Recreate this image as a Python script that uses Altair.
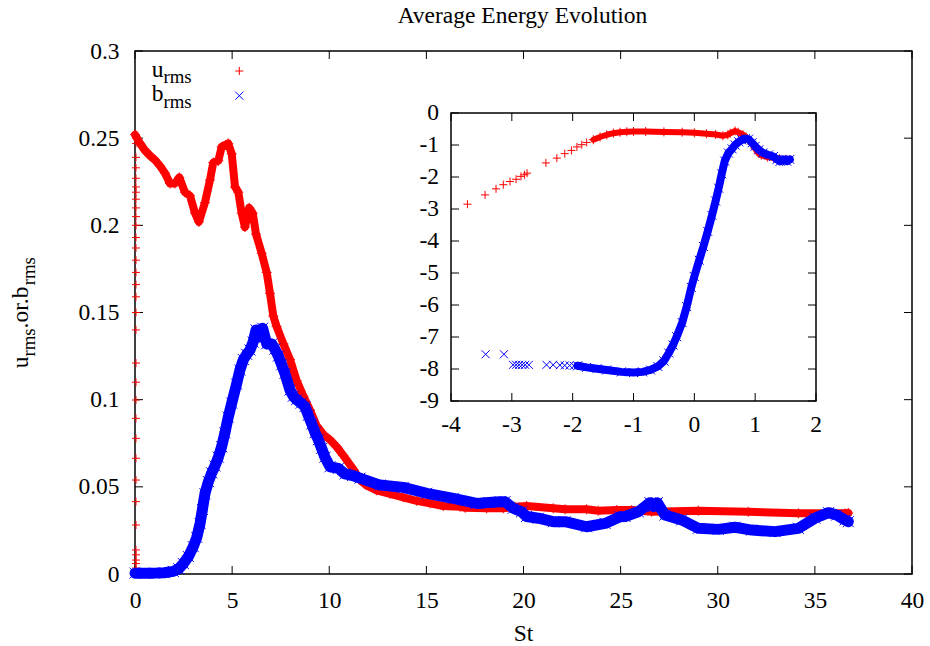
import altair as alt
import pandas as pd

FONT = "'Liberation Serif', 'Times New Roman', Times, serif"
FS = 23.5
FS_SUB = 18.8
RED = "#ff0000"
BLUE = "#0000ff"
PLUS = "M-1,0L1,0M0,-1L0,1"
CROSS = "M-1,-1L1,1M-1,1L1,-1"

W, H = 777, 523
IX0, IX1, IY0, IY1 = 316, 681, 62, 350
TICK = 8

# ---------------- main panel data ----------------
t_u = [0.0, 0.26, 0.51, 0.77, 1.03, 1.29, 1.54, 1.80, 2.06, 2.28, 2.57, 2.83, 3.09, 3.29, 3.60,
       3.86, 4.03, 4.29, 4.46, 4.80, 4.98, 5.15, 5.32, 5.49, 5.66, 5.88, 6.06, 6.23, 6.52, 6.78,
       6.95, 7.12, 7.29, 7.64, 7.98, 8.32, 8.67, 9.01, 9.35, 9.70, 10.04, 10.38, 10.72, 11.24,
       11.58, 11.90, 12.44, 13.13, 13.81, 14.50, 15.19, 15.87, 16.73, 17.00, 18.10, 18.96, 19.56,
       20.16, 21.53, 22.14, 23.25, 23.85, 24.80, 25.57, 26.60, 29.00, 31.57, 34.15, 36.55, 36.72]
u_rms = [0.252, 0.247, 0.243, 0.240, 0.2375, 0.234, 0.230, 0.224, 0.224, 0.2275, 0.219, 0.217,
         0.207, 0.202, 0.213, 0.226, 0.236, 0.237, 0.245, 0.247, 0.241, 0.222, 0.219, 0.207, 0.199,
         0.210, 0.207, 0.195, 0.184, 0.173, 0.161, 0.148, 0.142, 0.132, 0.123, 0.111, 0.102, 0.094,
         0.085, 0.080, 0.077, 0.073, 0.068, 0.060, 0.054, 0.051, 0.048, 0.046, 0.044, 0.042, 0.0405,
         0.039, 0.0386, 0.0380, 0.0377, 0.0377, 0.0386, 0.0390, 0.0377, 0.0371, 0.0371, 0.0363,
         0.0367, 0.0367, 0.0357, 0.0363, 0.0357, 0.0348, 0.0348, 0.0350]

# u_rms values of the first outputs, all plotted at St ~ 0 (the column of red crosses on the axis)
t_u_start = 0.05
u_rms_start = [0.0034, 0.006, 0.008, 0.011, 0.0138, 0.0281, 0.0415, 0.0539, 0.0664, 0.0778,
               0.0893, 0.0998, 0.110, 0.121, 0.140, 0.150, 0.159, 0.166, 0.173, 0.180, 0.187,
               0.193, 0.200, 0.205, 0.210, 0.215, 0.219, 0.222, 0.227, 0.233, 0.239, 0.247, 0.250]

t_b = [0.0, 0.5, 1.0, 1.5, 1.97, 2.25, 2.49, 2.75, 3.0, 3.18, 3.35, 3.47, 3.60, 3.78, 3.95, 4.12,
       4.29, 4.46, 4.63, 4.80, 4.98, 5.23, 5.40, 5.58, 5.75, 5.92, 6.08, 6.23, 6.44, 6.57, 6.78,
       7.04, 7.20, 7.38, 7.55, 7.72, 7.98, 8.15, 8.32, 8.55, 8.75, 8.92, 9.10, 9.27, 9.44, 9.61,
       9.78, 10.04, 10.47, 10.81, 11.20, 11.58, 12.61, 13.81, 15.02, 16.39, 17.59, 18.20, 18.79,
       19.05, 19.47, 19.90, 20.16, 20.76, 21.53, 22.14, 23.25, 24.20, 24.97, 25.23, 25.91, 26.51,
       26.68, 26.89, 27.28, 28.14, 29.00, 30.03, 30.89, 31.75, 32.95, 34.15, 35.00, 35.70, 36.12,
       36.55, 36.72]
b_rms = [0.0005, 0.0005, 0.0005, 0.0007, 0.0015, 0.003, 0.006, 0.010, 0.0157, 0.021, 0.029, 0.037,
         0.046, 0.053, 0.058, 0.062, 0.067, 0.073, 0.081, 0.090, 0.098, 0.109, 0.117, 0.123, 0.126,
         0.1285, 0.133, 0.140, 0.136, 0.141, 0.132, 0.132, 0.129, 0.125, 0.120, 0.115, 0.1055,
         0.102, 0.100, 0.098, 0.096, 0.091, 0.086, 0.081, 0.077, 0.072, 0.067, 0.0615, 0.0606,
         0.0574, 0.0565, 0.055, 0.051, 0.0497, 0.0463, 0.0434, 0.0405, 0.041, 0.0415, 0.0415,
         0.0377, 0.0357, 0.033, 0.032, 0.030, 0.030, 0.0271, 0.029, 0.0329, 0.033, 0.0357, 0.0409,
         0.0386, 0.0409, 0.0338, 0.031, 0.0262, 0.0256, 0.0268, 0.0252, 0.0243, 0.0262, 0.032,
         0.0352, 0.0338, 0.031, 0.030]

# ---------------- inset data: log10(St) vs log10(u_rms), log10(b_rms) ----------------
lt_u_sparse = [-3.73, -3.44, -3.26, -3.14, -3.03, -2.93, -2.85, -2.79, -2.75, -2.44, -2.26,
               -2.13, -2.02, -1.93, -1.85, -1.77]
lu_sparse = [-2.85, -2.56, -2.37, -2.24, -2.14, -2.07, -1.98, -1.93, -1.88, -1.56, -1.41,
             -1.27, -1.17, -1.06, -0.99, -0.92]
lt_u_dense = [-1.66, -1.55, -1.44, -1.33, -1.22, -1.11, -1.0, -0.8, -0.5, -0.2, 0.0, 0.2, 0.35,
              0.47, 0.55, 0.59, 0.67, 0.72, 0.80, 0.85, 0.90, 0.95, 1.0, 1.05, 1.1, 1.2, 1.3, 1.4,
              1.5, 1.565]
lu_dense = [-0.835, -0.75, -0.68, -0.63, -0.60, -0.585, -0.58, -0.58, -0.59, -0.60, -0.62, -0.65,
            -0.67, -0.71, -0.68, -0.63, -0.56, -0.60, -0.68, -0.75, -0.85, -0.98, -1.12, -1.25,
            -1.32, -1.38, -1.41, -1.43, -1.45, -1.46]

lt_b_sparse = [-3.43, -3.13, -2.98, -2.93, -2.88, -2.83, -2.78, -2.72, -2.43, -2.32, -2.21,
               -2.13, -2.05, -1.98]
lb_sparse = [-7.54, -7.54, -7.87, -7.87, -7.87, -7.87, -7.87, -7.87, -7.87, -7.87, -7.88,
             -7.89, -7.89, -7.90]
lt_b_dense = [-1.92, -1.77, -1.6, -1.44, -1.2, -1.0, -0.85, -0.72, -0.6, -0.5, -0.42, -0.35,
              -0.29, -0.2, -0.125, -0.05, 0.0, 0.08, 0.15, 0.22, 0.29, 0.35, 0.40, 0.45, 0.50,
              0.56, 0.62, 0.67, 0.73, 0.78, 0.84, 0.89, 0.95, 1.0, 1.06, 1.13, 1.22, 1.30, 1.36,
              1.41, 1.46, 1.52, 1.57]
lb_dense = [-7.90, -7.95, -7.99, -8.03, -8.09, -8.11, -8.09, -8.03, -7.92, -7.75, -7.5, -7.25,
            -6.99, -6.55, -6.05, -5.45, -5.11, -4.6, -4.17, -3.7, -3.2, -2.75, -2.35, -1.9, -1.5,
            -1.25, -1.12, -1.0, -0.9, -0.84, -0.80, -0.82, -0.93, -1.04, -1.15, -1.25, -1.31,
            -1.36, -1.45, -1.51, -1.45, -1.51, -1.45]

# ---------------- tick values / labels ----------------
x_ticks = [0, 5, 10, 15, 20, 25, 30, 35, 40]
y_ticks = [0, 0.05, 0.1, 0.15, 0.2, 0.25, 0.3]
inset_x_ticks = [-4, -3, -2, -1, 0, 1, 2]
inset_x_labels = ["-4", "-3", "-2", "-1", "0", "1", "2"]
inset_y_ticks = [0, -1, -2, -3, -4, -5, -6, -7, -8, -9]
inset_y_labels = ["0", "-1", "-2", "-3", "-4", "-5", "-6", "-7", "-8", "-9"]

# ---------------- data frames ----------------
df_u = pd.DataFrame({"t": t_u, "v": u_rms})
df_u0 = pd.DataFrame({"t": [t_u_start] * len(u_rms_start), "v": u_rms_start})
df_b = pd.DataFrame({"t": t_b, "v": b_rms})
df_xt = pd.DataFrame({"v": x_ticks})
df_yt = pd.DataFrame({"v": y_ticks})

di_us = pd.DataFrame({"lt": lt_u_sparse, "lv": lu_sparse})
di_ud = pd.DataFrame({"lt": lt_u_dense, "lv": lu_dense})
di_bs = pd.DataFrame({"lt": lt_b_sparse, "lv": lb_sparse})
di_bd = pd.DataFrame({"lt": lt_b_dense, "lv": lb_dense})
di_xt = pd.DataFrame({"v": inset_x_ticks, "lab": inset_x_labels})
di_yt = pd.DataFrame({"v": inset_y_ticks, "lab": inset_y_labels})
di_frame = pd.DataFrame({"x0": [inset_x_ticks[0]], "x1": [inset_x_ticks[-1]],
                         "y0": [inset_y_ticks[-1]], "y1": [inset_y_ticks[0]]})

# ---------------- scales & axes ----------------
xs = alt.Scale(domain=[0, 40], nice=False, zero=False)
ys = alt.Scale(domain=[0, 0.3], nice=False, zero=False)
x_axis = alt.Axis(values=x_ticks, format="~g", ticks=False, domain=False, grid=False, title=None,
                  labelFont=FONT, labelFontSize=FS, labelColor="black", labelPadding=14,
                  labelFlush=False, labelOverlap=False)
y_axis = alt.Axis(values=y_ticks, format="~g", ticks=False, domain=False, grid=False, title=None,
                  labelFont=FONT, labelFontSize=FS, labelColor="black", labelPadding=16,
                  labelFlush=False, labelOverlap=False)


def MX(f):
    return alt.X(f, type="quantitative", scale=xs, axis=x_axis)


def MY(f):
    return alt.Y(f, type="quantitative", scale=ys, axis=y_axis)


ixs = alt.Scale(domain=[-4, 2], range=[IX0, IX1], nice=False, zero=False)
iys = alt.Scale(domain=[-9, 0], range=[IY1, IY0], nice=False, zero=False)


def IX(f):
    return alt.X(f, type="quantitative", scale=ixs, axis=None)


def IY(f):
    return alt.Y(f, type="quantitative", scale=iys, axis=None)


def label(text, x, y, size=FS, align="left", angle=0):
    return alt.Chart(pd.DataFrame({"s": [text]})).mark_text(
        font=FONT, fontSize=size, align=align, baseline="alphabetic", angle=angle, color="black"
    ).encode(x=alt.value(x), y=alt.value(y), text="s:N")


def pts(df, xf, yf, shape, color, size):
    return alt.Chart(df).mark_point(shape=shape, filled=False, color=color, strokeWidth=1,
                                    size=size, opacity=1).encode(x=xf, y=yf)


def band(df, xf, yf, color, width):
    return alt.Chart(df).mark_line(color=color, strokeWidth=width, strokeJoin="round",
                                   strokeCap="round").encode(x=xf, y=yf)


rule = dict(color="black", strokeWidth=1)

# ---------------- main panel ----------------
main_layers = [
    alt.Chart(df_xt).mark_rule(**rule).encode(x=MX("v"), y=alt.value(H), y2=alt.value(H - TICK)),
    alt.Chart(df_xt).mark_rule(**rule).encode(x=MX("v"), y=alt.value(0), y2=alt.value(TICK)),
    alt.Chart(df_yt).mark_rule(**rule).encode(y=MY("v"), x=alt.value(0), x2=alt.value(TICK)),
    alt.Chart(df_yt).mark_rule(**rule).encode(y=MY("v"), x=alt.value(W), x2=alt.value(W - TICK)),
    pts(df_u0, MX("t"), MY("v"), PLUS, RED, 64),
    band(df_u, MX("t"), MY("v"), RED, 8),
    pts(df_u, MX("t"), MY("v"), PLUS, RED, 100),
    band(df_b, MX("t"), MY("v"), BLUE, 11),
    pts(df_b, MX("t"), MY("v"), CROSS, BLUE, 121),
    # legend
    label("u", 16.7, 25.7),
    label("rms", 28.4, 32.3, FS_SUB),
    label("b", 16.7, 49.7),
    label("rms", 28.4, 56.5, FS_SUB),
    alt.Chart(pd.DataFrame({"s": ["u"]})).mark_point(shape=PLUS, filled=False, color=RED, strokeWidth=1,
                                                     size=64, opacity=1).encode(x=alt.value(104.3), y=alt.value(20)),
    alt.Chart(pd.DataFrame({"s": ["b"]})).mark_point(shape=CROSS, filled=False, color=BLUE, strokeWidth=1,
                                                     size=64, opacity=1).encode(x=alt.value(104.3), y=alt.value(44.7)),
    # titles
    label("Average Energy Evolution", 387.5, -27.7, FS, "center"),
    label("St", 388.5, 590, FS, "center"),
    label("u", -106.7, 317.3, FS, "left", 270),
    label("rms", -100, 305.6, FS_SUB, "left", 270),
    label(".or.b", -106.7, 277.4, FS, "left", 270),
    label("rms", -100, 234.3, FS_SUB, "left", 270),
]

# ---------------- inset ----------------
inset_layers = [
    alt.Chart(di_frame).mark_rect(fill="white", fillOpacity=0, stroke="black", strokeWidth=1.5).encode(
        x=IX("x0"), x2="x1", y=IY("y0"), y2="y1"),
    alt.Chart(di_xt).mark_rule(**rule).encode(x=IX("v"), y=alt.value(IY1), y2=alt.value(IY1 - TICK)),
    alt.Chart(di_xt).mark_rule(**rule).encode(x=IX("v"), y=alt.value(IY0), y2=alt.value(IY0 + TICK)),
    alt.Chart(di_yt).mark_rule(**rule).encode(y=IY("v"), x=alt.value(IX0), x2=alt.value(IX0 + TICK)),
    alt.Chart(di_yt).mark_rule(**rule).encode(y=IY("v"), x=alt.value(IX1), x2=alt.value(IX1 - TICK)),
    alt.Chart(di_xt).mark_text(font=FONT, fontSize=FS, align="center", baseline="middle", color="black").encode(
        x=IX("v"), y=alt.value(IY1 + 24), text="lab:N"),
    alt.Chart(di_yt).mark_text(font=FONT, fontSize=FS, align="right", baseline="middle", color="black").encode(
        y=IY("v"), x=alt.value(IX0 - 12), text="lab:N"),
    pts(di_us, IX("lt"), IY("lv"), PLUS, RED, 64),
    band(di_ud, IX("lt"), IY("lv"), RED, 6),
    pts(di_ud, IX("lt"), IY("lv"), PLUS, RED, 81),
    pts(di_bs, IX("lt"), IY("lv"), CROSS, BLUE, 64),
    band(di_bd, IX("lt"), IY("lv"), BLUE, 8),
    pts(di_bd, IX("lt"), IY("lv"), CROSS, BLUE, 81),
]

main = alt.layer(*main_layers)
inset = alt.layer(*inset_layers)

chart = alt.layer(main, inset).resolve_scale(x="independent", y="independent").properties(
    width=W, height=H,
    autosize=alt.AutoSizeParams(type="none"),
    padding={"left": 135, "top": 51, "right": 18, "bottom": 72},
    background="white",
).configure_view(stroke="black", strokeWidth=1.5)

chart.save("out.html", embed_options={"renderer": "svg", "actions": False})
